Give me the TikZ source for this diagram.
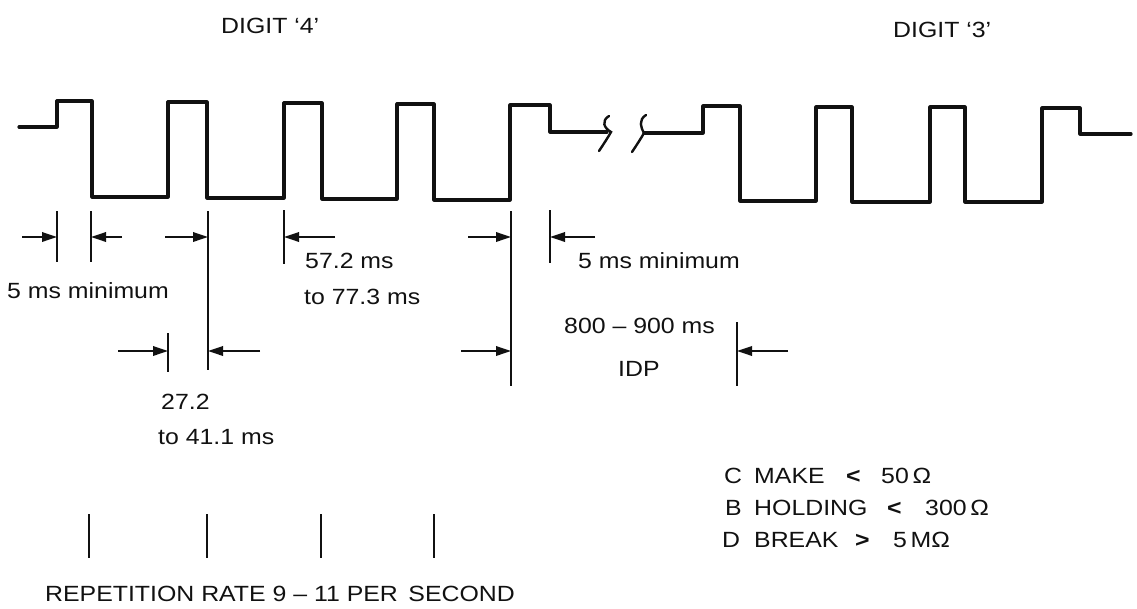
\documentclass[tikz,border=0pt]{standalone}
\usepackage{fontspec}
\setmainfont{Liberation Sans}[FakeStretch=1.13]
\usepackage{tikz}
\usetikzlibrary{arrows.meta,positioning}
\definecolor{ink}{HTML}{111111}
\tikzset{
  wave/.style    ={draw=ink,line width=3.2pt,line join=round,line cap=round},
  breakmark/.style={draw=ink,line width=2.4pt,line cap=round},
  dimline/.style ={draw=ink,line width=1.8pt},
  dimarrow/.style={-{Triangle[length=15pt,width=9.5pt]},line width=1.8pt,draw=ink},
  lbl/.style     ={font=\fontsize{22}{26}\selectfont,inner sep=0pt,text=ink,anchor=base west}
}
\begin{document}
\begin{tikzpicture}[x=1pt,y=-1pt]
    \useasboundingbox (0,0) rectangle (1137,608);
    % titles
    \node[lbl] (dig4) at (221,33) {DIGIT ‘4’};
    \node[lbl] (dig3) at (893,37) {DIGIT ‘3’};
    % pulse train, digit 4
    \draw[wave] (19,127) -- (57,127) -- (57,101) -- (92,101) -- (92,197)
        -- (168,197) -- (168,102) -- (207,102) -- (207,198)
        -- (284,198) -- (284,103) -- (322,103) -- (322,199)
        -- (397,199) -- (397,104) -- (434,104) -- (434,200)
        -- (510,200) -- (510,105) -- (550,105) -- (550,132) -- (607,132);
    % break in the line
    \draw[breakmark] (609,116) .. controls (601,121) and (604,128) .. (611,132)
        .. controls (607,139) and (603,145) .. (599,151);
    \draw[breakmark] (646,115) .. controls (638,120) and (641,128) .. (644,133)
        .. controls (640,140) and (636,146) .. (632,152);
    % pulse train, digit 3
    \draw[wave] (644,133) -- (703,133) -- (703,106) -- (740,106) -- (740,201)
        -- (816,201) -- (816,107) -- (852,107) -- (852,202)
        -- (930,202) -- (930,107) -- (965,107) -- (965,202)
        -- (1042,202) -- (1042,108) -- (1080,108) -- (1080,134) -- (1131,134);
    % timing marks
    \coordinate (m1) at (57,237);
    \coordinate (m2) at (91,237);
    \coordinate (m3) at (208,237);
    \coordinate (m4) at (284,237);
    \coordinate (m5) at (511,237);
    \coordinate (m6) at (550,237);
    \coordinate (n1) at (168,351);
    \coordinate (n2) at (208,351);
    \coordinate (n3) at (511,351);
    \coordinate (n4) at (737,351);
    \draw[dimline] (57,211) -- (57,262);
    \draw[dimline] (91,211) -- (91,262);
    \draw[dimline] (208,211) -- (208,370);
    \draw[dimline] (284,210) -- (284,264);
    \draw[dimline] (511,211) -- (511,386);
    \draw[dimline] (550,210) -- (550,263);
    \draw[dimline] (168,333) -- (168,372);
    \draw[dimline] (737,322) -- (737,386);
    \draw[dimarrow] (22,237) -- (m1);
    \draw[dimarrow] (122,237) -- (m2);
    \draw[dimarrow] (165,237) -- (m3);
    \draw[dimarrow] (335,237) -- (m4);
    \draw[dimarrow] (468,237) -- (m5);
    \draw[dimarrow] (595,237) -- (m6);
    \draw[dimarrow] (118,351) -- (n1);
    \draw[dimarrow] (260,351) -- (n2);
    \draw[dimarrow] (461,351) -- (n3);
    \draw[dimarrow] (788,351) -- (n4);
    % labels
    \node[lbl] (minA) at (7,298) {5 ms minimum};
    \node[lbl] (brk1) at (305,268) {57.2 ms};
    \node[lbl] (brk2) at (304,304) {to 77.3 ms};
    \node[lbl] (mk1) at (161,409) {27.2};
    \node[lbl] (mk2) at (158,444) {to 41.1 ms};
    \node[lbl] (minB) at (578,268) {5 ms minimum};
    \node[lbl] (idp1) at (564,333) {800 -- 900 ms};
    \node[lbl] (idp2) at (618,376) {IDP};
    % contact resistances
    \node[lbl] (cC) at (724,483) {C};
    \node[lbl] (cMake) at (754,483) {MAKE};
    \node[lbl] (cLt) at (846,483) {\textbf{<}};
    \node[lbl] (cVal) at (881,483) {50\,Ω};
    \node[lbl] (bB) at (725,515) {B};
    \node[lbl] (bHold) at (754,515) {HOLDING};
    \node[lbl] (bLt) at (887,515) {\textbf{<}};
    \node[lbl] (bVal) at (925,515) {300\,Ω};
    \node[lbl] (dD) at (722,547) {D};
    \node[lbl] (dBreak) at (754,547) {BREAK};
    \node[lbl] (dGt) at (855,547) {\textbf{>}};
    \node[lbl] (dVal) at (893,547) {5\,MΩ};
    % repetition rate
    \draw[dimline] (89,514) -- (89,558);
    \draw[dimline] (207,514) -- (207,558);
    \draw[dimline] (321,514) -- (321,558);
    \draw[dimline] (434,514) -- (434,558);
    \node[lbl] (rep) at (45,601) {REPETITION RATE 9 -- 11 PER\, SECOND};
\end{tikzpicture}
\end{document}
